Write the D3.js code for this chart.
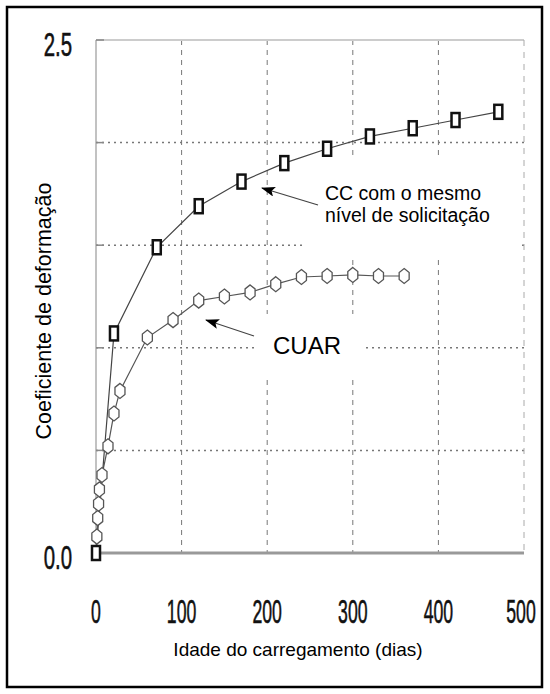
<!DOCTYPE html>
<html>
<head>
<meta charset="utf-8">
<script src="https://cdn.jsdelivr.net/npm/d3@7"></script>
<style>
  html, body { margin: 0; padding: 0; background: #fff; }
  svg { display: block; }
</style>
</head>
<body>
<svg id="chart" width="550" height="694"></svg>
<script>
// ---- data ----
const ccDays   = [0, 21, 71, 120, 170, 220, 270, 320, 370, 420, 470];
const ccValues = [0.0, 1.07, 1.49, 1.69, 1.81, 1.90, 1.97, 2.03, 2.07, 2.11, 2.15];

const cuarDays   = [1, 2, 3, 4, 7, 14, 21, 28, 60, 90, 120, 150, 180, 210, 240, 270, 300, 330, 360];
const cuarValues = [0.08, 0.17, 0.24, 0.31, 0.38, 0.52, 0.68, 0.79, 1.05, 1.135, 1.23, 1.25, 1.27, 1.31, 1.345, 1.35, 1.355, 1.35, 1.35];

const xTicks = [0, 100, 200, 300, 400, 500];
const yTickLabels = ["0.0", "2.5"];
const yTickValues = [0, 2.5];
const yGrid = [0.5, 1.0, 1.5, 2.0];
const xGrid = [100, 200, 300, 400];

const xTitle = "Idade do carregamento (dias)";
const yTitle = "Coeficiente de deformação";
const ccLabel = ["CC com o mesmo", "nível de solicitação"];
const cuarLabel = "CUAR";

// ---- layout ----
const svg = d3.select("#chart");
const x = d3.scaleLinear().domain([0, 500]).range([96, 524]);
const y = d3.scaleLinear().domain([0, 2.5]).range([553, 40]);

// outer frame
svg.append("rect").attr("x", 7).attr("y", 7).attr("width", 535).attr("height", 680)
  .attr("fill", "#fff").attr("stroke", "#000").attr("stroke-width", 2.5);

// gridlines
svg.append("g").selectAll("line").data(xGrid).join("line")
  .attr("x1", d => x(d)).attr("x2", d => x(d))
  .attr("y1", y(2.5)).attr("y2", y(0))
  .attr("stroke", "#777").attr("stroke-width", 1).attr("stroke-dasharray", "5,5");
svg.append("g").selectAll("line").data(yGrid).join("line")
  .attr("x1", x(0)).attr("x2", x(500))
  .attr("y1", d => y(d)).attr("y2", d => y(d))
  .attr("stroke", "#777").attr("stroke-width", 1.5).attr("stroke-dasharray", "2,4");

// plot frame
svg.append("line").attr("x1", x(0)).attr("x2", x(500)).attr("y1", y(2.5)).attr("y2", y(2.5))
  .attr("stroke", "#ccc").attr("stroke-width", 2);
svg.append("line").attr("x1", x(500)).attr("x2", x(500)).attr("y1", y(2.5)).attr("y2", y(0))
  .attr("stroke", "#aaa").attr("stroke-width", 1).attr("stroke-dasharray", "6,6");
svg.append("line").attr("x1", x(0)).attr("x2", x(0)).attr("y1", y(2.5)).attr("y2", y(0))
  .attr("stroke", "#999").attr("stroke-width", 1.2);
svg.append("line").attr("x1", x(0)).attr("x2", x(500)).attr("y1", y(0)).attr("y2", y(0))
  .attr("stroke", "#999").attr("stroke-width", 3);
// small inward y ticks
svg.append("g").selectAll("line").data(yGrid.concat([2.5])).join("line")
  .attr("x1", x(0)).attr("x2", x(0) + 8)
  .attr("y1", d => y(d)).attr("y2", d => y(d))
  .attr("stroke", "#888").attr("stroke-width", 1.5);

// white boxes behind annotations (they hide the grid)
svg.append("rect").attr("x", 304).attr("y", 160).attr("width", 214).attr("height", 97).attr("fill", "#fff");
svg.append("rect").attr("x", 255).attr("y", 314).attr("width", 111).attr("height", 66).attr("fill", "#fff");

// tick labels (condensed via horizontal scale)
const tickFont = "'Liberation Sans', Arial, sans-serif";
svg.append("g").selectAll("text").data(xTicks).join("text")
  .attr("transform", d => `translate(${Math.min(x(d), 521)},623) scale(0.52,1)`)
  .attr("text-anchor", "middle")
  .attr("font-family", tickFont).attr("font-size", 34).attr("fill", "#111")
  .attr("stroke", "#111").attr("stroke-width", 0.6)
  .text(d => d);
svg.append("g").selectAll("text").data(yTickValues).join("text")
  .attr("transform", d => `translate(72,${y(d) + 16}) scale(0.6,1)`)
  .attr("text-anchor", "end")
  .attr("font-family", tickFont).attr("font-size", 34).attr("fill", "#111")
  .attr("stroke", "#111").attr("stroke-width", 0.6)
  .text((d, i) => yTickLabels[i]);

// axis titles
const textFont = "'Liberation Sans', Arial, sans-serif";
svg.append("text").attr("x", 298).attr("y", 656)
  .attr("text-anchor", "middle").attr("font-family", textFont).attr("font-size", 19)
  .attr("fill", "#000").text(xTitle);
svg.append("text").attr("transform", "translate(51,311) rotate(-90)")
  .attr("text-anchor", "middle").attr("font-family", textFont).attr("font-size", 21.5)
  .attr("fill", "#000").text(yTitle);

// lines
const line = d3.line().x(d => x(d[0])).y(d => y(d[1]));
const ccData = ccDays.map((d, i) => [d, ccValues[i]]);
const cuarData = cuarDays.map((d, i) => [d, cuarValues[i]]);

svg.append("path").datum(cuarData).attr("d", line)
  .attr("fill", "none").attr("stroke", "#555").attr("stroke-width", 1.2);
svg.append("path").datum(ccData).attr("d", line)
  .attr("fill", "none").attr("stroke", "#444").attr("stroke-width", 1.2);

// hexagon markers (CUAR)
const hex = "M0,-7.5 L5,-3.5 L5,3.5 L0,7.5 L-5,3.5 L-5,-3.5 Z";
svg.append("g").selectAll("path").data(cuarData).join("path")
  .attr("transform", d => `translate(${x(d[0])},${y(d[1])})`)
  .attr("d", hex).attr("fill", "#fff").attr("stroke", "#555").attr("stroke-width", 1.3);

// square markers (CC)
svg.append("g").selectAll("rect").data(ccData).join("rect")
  .attr("x", d => x(d[0]) - 4).attr("y", d => y(d[1]) - 7)
  .attr("width", 8).attr("height", 14)
  .attr("fill", "#fff").attr("stroke", "#111").attr("stroke-width", 2.5);

// arrows
const defs = svg.append("defs");
defs.append("marker").attr("id", "ah").attr("viewBox", "0 0 14 10")
  .attr("refX", 13).attr("refY", 5).attr("markerWidth", 14).attr("markerHeight", 10)
  .attr("markerUnits", "userSpaceOnUse").attr("orient", "auto")
  .append("path").attr("d", "M0,0 L14,5 L0,10 L3,5 Z").attr("fill", "#000");

svg.append("line").attr("x1", 318).attr("y1", 205).attr("x2", 262).attr("y2", 188)
  .attr("stroke", "#444").attr("stroke-width", 1.3).attr("marker-end", "url(#ah)");
svg.append("line").attr("x1", 254).attr("y1", 336).attr("x2", 206).attr("y2", 320)
  .attr("stroke", "#444").attr("stroke-width", 1.3).attr("marker-end", "url(#ah)");

// annotation text
svg.append("text").attr("x", 325).attr("y", 200)
  .attr("font-family", textFont).attr("font-size", 19.5).attr("fill", "#000").text(ccLabel[0]);
svg.append("text").attr("x", 325).attr("y", 222)
  .attr("font-family", textFont).attr("font-size", 19.5).attr("fill", "#000").text(ccLabel[1]);
svg.append("text").attr("x", 273).attr("y", 354)
  .attr("font-family", textFont).attr("font-size", 24).attr("fill", "#000").text(cuarLabel);
</script>
</body>
</html>
